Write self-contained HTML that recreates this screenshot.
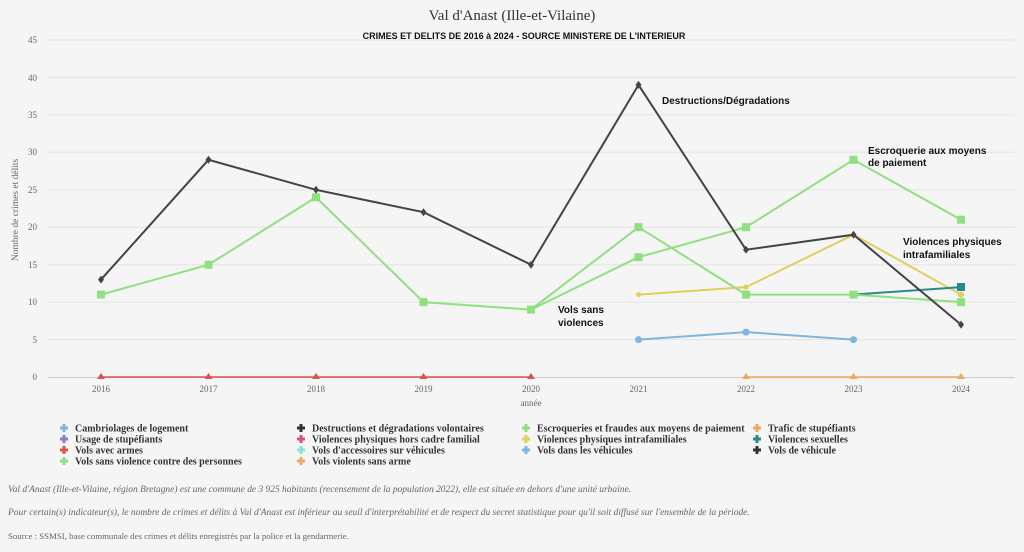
<!DOCTYPE html>
<html><head><meta charset="utf-8"><style>
body{margin:0;background:#f5f5f5;}
svg{display:block;font-family:"Liberation Serif",serif;}
.lg{font-size:10px;font-weight:bold;fill:#333;}
.nt{font-size:9.45px;font-style:italic;fill:#666;}
.an{font-family:"Liberation Sans",sans-serif;font-size:10px;font-weight:bold;fill:#111;}
</style></head><body>
<svg width="1024" height="552" viewBox="0 0 1024 552">
<rect width="1024" height="552" fill="#f5f5f5"/>
<text x="512" y="20" text-anchor="middle" font-size="15" fill="#333">Val d'Anast (Ille-et-Vilaine)</text>
<text x="524" y="39" text-anchor="middle" font-family="Liberation Sans" font-size="9" font-weight="bold" fill="#111">CRIMES ET DELITS DE 2016 à 2024 - SOURCE MINISTERE DE L'INTERIEUR</text>
<g stroke="#e4e4e4" stroke-width="1">
<line x1="48" x2="1015" y1="40" y2="40"/><line x1="48" x2="1015" y1="77.4" y2="77.4"/><line x1="48" x2="1015" y1="114.9" y2="114.9"/><line x1="48" x2="1015" y1="152.3" y2="152.3"/><line x1="48" x2="1015" y1="189.8" y2="189.8"/><line x1="48" x2="1015" y1="227.2" y2="227.2"/><line x1="48" x2="1015" y1="264.7" y2="264.7"/><line x1="48" x2="1015" y1="302.1" y2="302.1"/><line x1="48" x2="1015" y1="339.6" y2="339.6"/>
</g>
<line x1="48" x2="1015" y1="377.5" y2="377.5" stroke="#ccc"/>
<g font-size="9" fill="#666" text-anchor="end">
<text x="37" y="43">45</text><text x="37" y="81">40</text><text x="37" y="118">35</text><text x="37" y="155">30</text><text x="37" y="193">25</text><text x="37" y="230">20</text><text x="37" y="268">15</text><text x="37" y="305">10</text><text x="37" y="343">5</text><text x="37" y="380">0</text>
</g>
<g font-size="9" fill="#666" text-anchor="middle">
<text x="101" y="392">2016</text><text x="208.5" y="392">2017</text><text x="316" y="392">2018</text><text x="423.5" y="392">2019</text><text x="531" y="392">2020</text><text x="638.5" y="392">2021</text><text x="746" y="392">2022</text><text x="853.5" y="392">2023</text><text x="961" y="392">2024</text>
<text x="531" y="406" font-size="9">année</text>
</g>
<text transform="translate(18,210) rotate(-90)" text-anchor="middle" font-size="9.5" fill="#666">Nombre de crimes et délits</text>
<g fill="none" stroke-width="2">
<polyline stroke="#d9534f" stroke-width="1.5" points="101,377 208.5,377 316,377 423.5,377 531,377"/>
<polyline stroke="#f0a860" stroke-width="1.5" points="746,377 853.5,377 961,377"/>
<polyline stroke="#7fb6e0" points="638.5,339.6 746,332.1 853.5,339.6"/>
<polyline stroke="#e0cf5a" points="638.5,294.6 746,287.1 853.5,234.7 961,294.6"/>
<polyline stroke="#2a8a8a" points="853.5,294.6 961,287.1"/>
<polyline stroke="#8fe07f" points="101,294.6 208.5,264.7 316,197.3 423.5,302.1 531,309.6 638.5,227.2 746,294.6 853.5,294.6 961,302.1"/>
<polyline stroke="#8fe07f" points="531,309.6 638.5,257.2 746,227.2 853.5,159.8 961,219.7"/>
<polyline stroke="#444" points="101,279.6 208.5,159.8 316,189.8 423.5,212.2 531,264.7 638.5,84.9 746,249.7 853.5,234.7 961,324.6"/>
</g>
<g fill="#d9534f"><path d="M101,373l4,6h-8z"/><path d="M208.5,373l4,6h-8z"/><path d="M316,373l4,6h-8z"/><path d="M423.5,373l4,6h-8z"/><path d="M531,373l4,6h-8z"/></g>
<g fill="#f0a860"><path d="M746,373l4,6h-8z"/><path d="M853.5,373l4,6h-8z"/><path d="M961,373l4,6h-8z"/></g>
<g fill="#7fb6e0"><circle cx="638.5" cy="339.6" r="3.5"/><circle cx="746" cy="332.1" r="3.5"/><circle cx="853.5" cy="339.6" r="3.5"/></g>
<g fill="#e0cf5a"><circle cx="638.5" cy="294.6" r="2.5"/><circle cx="746" cy="287.1" r="2.5"/><circle cx="853.5" cy="234.7" r="2.5"/><circle cx="961" cy="294.6" r="3"/></g>
<rect x="957" y="283" width="8" height="8" fill="#2a8a8a"/>
<g fill="#8fe07f">
<rect x="97" y="290.6" width="8" height="8"/><rect x="204.5" y="260.7" width="8" height="8"/><rect x="312" y="193.3" width="8" height="8"/><rect x="419.5" y="298.1" width="8" height="8"/><rect x="527" y="305.6" width="8" height="8"/><rect x="634.5" y="223.2" width="8" height="8"/><rect x="742" y="290.6" width="8" height="8"/><rect x="849.5" y="290.6" width="8" height="8"/><rect x="957" y="298.1" width="8" height="8"/>
<rect x="634.5" y="253.2" width="8" height="8"/><rect x="742" y="223.2" width="8" height="8"/><rect x="849.5" y="155.8" width="8" height="8"/><rect x="957" y="215.7" width="8" height="8"/>
</g>
<g fill="#444">
<path d="M101,275.6l3,4l-3,4l-3,-4z"/><path d="M208.5,155.8l3,4l-3,4l-3,-4z"/><path d="M316,185.8l3,4l-3,4l-3,-4z"/><path d="M423.5,208.2l3,4l-3,4l-3,-4z"/><path d="M531,260.7l3,4l-3,4l-3,-4z"/><path d="M638.5,80.9l3,4l-3,4l-3,-4z"/><path d="M746,245.7l3,4l-3,4l-3,-4z"/><path d="M853.5,230.7l3,4l-3,4l-3,-4z"/><path d="M961,320.6l3,4l-3,4l-3,-4z"/>
</g>
<text class="an" x="662" y="104">Destructions/Dégradations</text>
<text class="an" x="868" y="154">Escroquerie aux moyens</text><text class="an" x="868" y="166">de paiement</text>
<text class="an" x="903" y="245">Violences physiques</text><text class="an" x="903" y="258">intrafamiliales</text>
<text class="an" x="558" y="313">Vols sans</text><text class="an" x="558" y="326">violences</text>
<g class="lg">
<g transform="translate(64,428)"><path d="M-4,0h8M0,-4v8" stroke="#7fb6e0" stroke-width="3"/><text x="11" y="3.5">Cambriolages de logement</text></g>
<g transform="translate(64,439)"><path d="M-4,0h8M0,-4v8" stroke="#8a7fd0" stroke-width="3"/><text x="11" y="3.5">Usage de stupéfiants</text></g>
<g transform="translate(64,450)"><path d="M-4,0h8M0,-4v8" stroke="#d9534f" stroke-width="3"/><text x="11" y="3.5">Vols avec armes</text></g>
<g transform="translate(64,461)"><path d="M-4,0h8M0,-4v8" stroke="#8fe07f" stroke-width="3"/><text x="11" y="3.5">Vols sans violence contre des personnes</text></g>
<g transform="translate(301,428)"><path d="M-4,0h8M0,-4v8" stroke="#333" stroke-width="3"/><text x="11" y="3.5">Destructions et dégradations volontaires</text></g>
<g transform="translate(301,439)"><path d="M-4,0h8M0,-4v8" stroke="#e05070" stroke-width="3"/><text x="11" y="3.5">Violences physiques hors cadre familial</text></g>
<g transform="translate(301,450)"><path d="M-4,0h8M0,-4v8" stroke="#8ee0d8" stroke-width="3"/><text x="11" y="3.5">Vols d'accessoires sur véhicules</text></g>
<g transform="translate(301,461)"><path d="M-4,0h8M0,-4v8" stroke="#f0a860" stroke-width="3"/><text x="11" y="3.5">Vols violents sans arme</text></g>
<g transform="translate(526,428)"><path d="M-4,0h8M0,-4v8" stroke="#8fe07f" stroke-width="3"/><text x="11" y="3.5">Escroqueries et fraudes aux moyens de paiement</text></g>
<g transform="translate(526,439)"><path d="M-4,0h8M0,-4v8" stroke="#e0cf5a" stroke-width="3"/><text x="11" y="3.5">Violences physiques intrafamiliales</text></g>
<g transform="translate(526,450)"><path d="M-4,0h8M0,-4v8" stroke="#7fb6e0" stroke-width="3"/><text x="11" y="3.5">Vols dans les véhicules</text></g>
<g transform="translate(757,428)"><path d="M-4,0h8M0,-4v8" stroke="#f0a860" stroke-width="3"/><text x="11" y="3.5">Trafic de stupéfiants</text></g>
<g transform="translate(757,439)"><path d="M-4,0h8M0,-4v8" stroke="#2a8a8a" stroke-width="3"/><text x="11" y="3.5">Violences sexuelles</text></g>
<g transform="translate(757,450)"><path d="M-4,0h8M0,-4v8" stroke="#333" stroke-width="3"/><text x="11" y="3.5">Vols de véhicule</text></g>
</g>
<text class="nt" x="8" y="492">Val d'Anast (Ille-et-Vilaine, région Bretagne) est une commune de 3 925 habitants (recensement de la population 2022), elle est située en dehors d'une unité urbaine.</text>
<text class="nt" x="8" y="515">Pour certain(s) indicateur(s), le nombre de crimes et délits à Val d'Anast est inférieur au seuil d'interprétabilité et de respect du secret statistique pour qu'il soit diffusé sur l'ensemble de la période.</text>
<text x="8" y="539" font-size="8.8" fill="#666">Source : SSMSI, base communale des crimes et délits enregistrés par la police et la gendarmerie.</text>
</svg>
</body></html>
